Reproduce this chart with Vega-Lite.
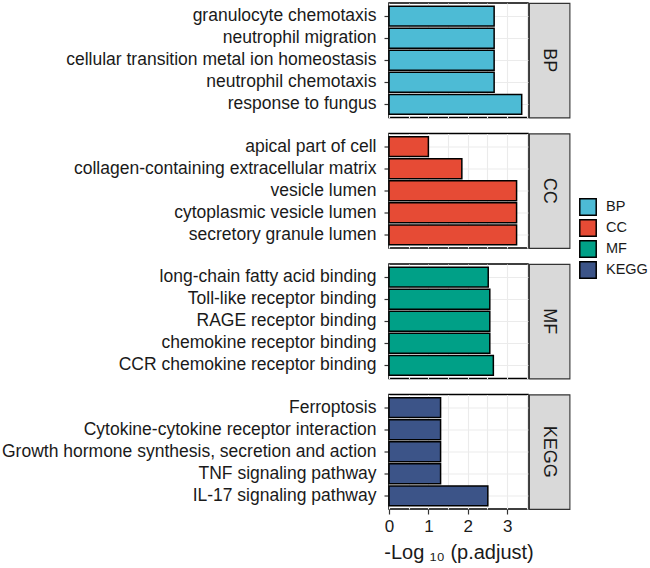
{
  "$schema": "https://vega.github.io/schema/vega-lite/v6.json",
  "padding": {"left": 0, "top": 2, "right": 5, "bottom": 2},
  "background": "white",
  "datasets": {
    "terms": [
      {"category": "BP", "term": "granulocyte chemotaxis", "value": 2.67},
      {"category": "BP", "term": "neutrophil migration", "value": 2.67},
      {"category": "BP", "term": "cellular transition metal ion homeostasis", "value": 2.67},
      {"category": "BP", "term": "neutrophil chemotaxis", "value": 2.67},
      {"category": "BP", "term": "response to fungus", "value": 3.37},
      {"category": "CC", "term": "apical part of cell", "value": 1.0},
      {"category": "CC", "term": "collagen-containing extracellular matrix", "value": 1.85},
      {"category": "CC", "term": "vesicle lumen", "value": 3.24},
      {"category": "CC", "term": "cytoplasmic vesicle lumen", "value": 3.24},
      {"category": "CC", "term": "secretory granule lumen", "value": 3.24},
      {"category": "MF", "term": "long-chain fatty acid binding", "value": 2.52},
      {"category": "MF", "term": "Toll-like receptor binding", "value": 2.56},
      {"category": "MF", "term": "RAGE receptor binding", "value": 2.56},
      {"category": "MF", "term": "chemokine receptor binding", "value": 2.56},
      {"category": "MF", "term": "CCR chemokine receptor binding", "value": 2.65},
      {"category": "KEGG", "term": "Ferroptosis", "value": 1.31},
      {"category": "KEGG", "term": "Cytokine-cytokine receptor interaction", "value": 1.31},
      {"category": "KEGG", "term": "Growth hormone synthesis, secretion and action", "value": 1.31},
      {"category": "KEGG", "term": "TNF signaling pathway", "value": 1.31},
      {"category": "KEGG", "term": "IL-17 signaling pathway", "value": 2.51}
    ],
    "strips": [
      {"panel": "BP"}, {"panel": "CC"}, {"panel": "MF"}, {"panel": "KEGG"}
    ]
  },
  "config": {
    "font": "Liberation Sans",
    "axis": {
      "labelFont": "Liberation Sans",
      "titleFont": "Liberation Sans",
      "labelColor": "#1a1a1a",
      "gridColor": "#EBEBEB",
      "gridWidth": 1.1
    }
  },
  "columns": 2,
  "align": "each",
  "bounds": "flush",
  "spacing": {"row": 15.5, "column": 1},
  "concat": [
    {
      "width": 139, "height": 114.5,
      "view": {"stroke": "black", "strokeWidth": 1.5},
      "data": {"name": "terms"},
      "transform": [{"filter": "datum.category === 'BP'"}],
      "mark": {"type": "bar", "stroke": "black", "strokeWidth": 1.5},
      "encoding": {
        "y": {"field": "term", "type": "nominal", "sort": null,
              "scale": {"paddingInner": 0.1, "paddingOuter": 0.15},
              "axis": {"title": null, "labelFontSize": 17.5, "labelColor": "#1a1a1a", "tickSize": 5, "tickWidth": 1.2, "tickColor": "#333", "labelPadding": 8, "domain": false, "bandPosition": 0.5, "grid": true, "labelLimit": 500}},
        "x": {"field": "value", "type": "quantitative",
              "scale": {"domain": [0, 3.53], "nice": false, "zero": true},
              "axis": {"values": [0, 0.5, 1, 1.5, 2, 2.5, 3, 3.5], "labels": false, "ticks": false, "domain": false, "title": null, "grid": true}},
        "color": {"field": "category", "type": "nominal",
                  "scale": {"domain": ["BP", "CC", "MF", "KEGG"], "range": ["#4DBBD5", "#E64B35", "#00A087", "#3C5488"]},
                  "legend": {"title": null, "orient": "none", "legendX": 190, "legendY": 195, "symbolType": "square", "symbolSize": 270, "symbolStrokeColor": "black", "symbolStrokeWidth": 1.5, "labelFontSize": 14.5, "labelColor": "#1a1a1a", "rowPadding": -7.5, "labelOffset": 9}}
      }
    },
    {
      "width": 40.5, "height": 114.5,
      "view": {"fill": "#D9D9D9", "stroke": "#333333", "strokeWidth": 1.1},
      "data": {"name": "strips"},
      "transform": [{"filter": "datum.panel === 'BP'"}],
      "mark": {"type": "text", "angle": 90, "fontSize": 18, "color": "#1a1a1a", "align": "center", "baseline": "middle"},
      "encoding": {"text": {"field": "panel"}}
    },
    {
      "width": 139, "height": 114.5,
      "view": {"stroke": "black", "strokeWidth": 1.5},
      "data": {"name": "terms"},
      "transform": [{"filter": "datum.category === 'CC'"}],
      "mark": {"type": "bar", "stroke": "black", "strokeWidth": 1.5},
      "encoding": {
        "y": {"field": "term", "type": "nominal", "sort": null,
              "scale": {"paddingInner": 0.1, "paddingOuter": 0.15},
              "axis": {"title": null, "labelFontSize": 17.5, "labelColor": "#1a1a1a", "tickSize": 5, "tickWidth": 1.2, "tickColor": "#333", "labelPadding": 8, "domain": false, "bandPosition": 0.5, "grid": true, "labelLimit": 500}},
        "x": {"field": "value", "type": "quantitative",
              "scale": {"domain": [0, 3.53], "nice": false, "zero": true},
              "axis": {"values": [0, 0.5, 1, 1.5, 2, 2.5, 3, 3.5], "labels": false, "ticks": false, "domain": false, "title": null, "grid": true}},
        "color": {"field": "category", "type": "nominal",
                  "scale": {"domain": ["BP", "CC", "MF", "KEGG"], "range": ["#4DBBD5", "#E64B35", "#00A087", "#3C5488"]}}
      }
    },
    {
      "width": 40.5, "height": 114.5,
      "view": {"fill": "#D9D9D9", "stroke": "#333333", "strokeWidth": 1.1},
      "data": {"name": "strips"},
      "transform": [{"filter": "datum.panel === 'CC'"}],
      "mark": {"type": "text", "angle": 90, "fontSize": 18, "color": "#1a1a1a", "align": "center", "baseline": "middle"},
      "encoding": {"text": {"field": "panel"}}
    },
    {
      "width": 139, "height": 114.5,
      "view": {"stroke": "black", "strokeWidth": 1.5},
      "data": {"name": "terms"},
      "transform": [{"filter": "datum.category === 'MF'"}],
      "mark": {"type": "bar", "stroke": "black", "strokeWidth": 1.5},
      "encoding": {
        "y": {"field": "term", "type": "nominal", "sort": null,
              "scale": {"paddingInner": 0.1, "paddingOuter": 0.15},
              "axis": {"title": null, "labelFontSize": 17.5, "labelColor": "#1a1a1a", "tickSize": 5, "tickWidth": 1.2, "tickColor": "#333", "labelPadding": 8, "domain": false, "bandPosition": 0.5, "grid": true, "labelLimit": 500}},
        "x": {"field": "value", "type": "quantitative",
              "scale": {"domain": [0, 3.53], "nice": false, "zero": true},
              "axis": {"values": [0, 0.5, 1, 1.5, 2, 2.5, 3, 3.5], "labels": false, "ticks": false, "domain": false, "title": null, "grid": true}},
        "color": {"field": "category", "type": "nominal",
                  "scale": {"domain": ["BP", "CC", "MF", "KEGG"], "range": ["#4DBBD5", "#E64B35", "#00A087", "#3C5488"]}}
      }
    },
    {
      "width": 40.5, "height": 114.5,
      "view": {"fill": "#D9D9D9", "stroke": "#333333", "strokeWidth": 1.1},
      "data": {"name": "strips"},
      "transform": [{"filter": "datum.panel === 'MF'"}],
      "mark": {"type": "text", "angle": 90, "fontSize": 18, "color": "#1a1a1a", "align": "center", "baseline": "middle"},
      "encoding": {"text": {"field": "panel"}}
    },
    {
      "width": 139, "height": 114.5,
      "view": {"stroke": "black", "strokeWidth": 1.5},
      "data": {"name": "terms"},
      "transform": [{"filter": "datum.category === 'KEGG'"}],
      "mark": {"type": "bar", "stroke": "black", "strokeWidth": 1.5},
      "encoding": {
        "y": {"field": "term", "type": "nominal", "sort": null,
              "scale": {"paddingInner": 0.1, "paddingOuter": 0.15},
              "axis": {"title": null, "labelFontSize": 17.5, "labelColor": "#1a1a1a", "tickSize": 5, "tickWidth": 1.2, "tickColor": "#333", "labelPadding": 8, "domain": false, "bandPosition": 0.5, "grid": true, "labelLimit": 500}},
        "x": {"field": "value", "type": "quantitative",
              "scale": {"domain": [0, 3.53], "nice": false, "zero": true},
              "axis": {"values": [0, 0.5, 1, 1.5, 2, 2.5, 3, 3.5], "domain": false, "grid": true,
                       "labelExpr": "datum.value % 1 === 0 ? format(datum.value, 'd') : ''",
                       "tickOpacity": {"expr": "datum.value % 1 === 0 ? 1 : 0"},
                       "tickSize": 5, "tickWidth": 1.2, "tickColor": "#333",
                       "labelFontSize": 17, "labelColor": "#1a1a1a", "labelPadding": 4, "labelFlush": false,
                       "title": "-Log \u2081\u2080 (p.adjust)", "titleFontSize": 20, "titleFontWeight": "normal", "titleColor": "#1a1a1a", "titlePadding": 8}},
        "color": {"field": "category", "type": "nominal",
                  "scale": {"domain": ["BP", "CC", "MF", "KEGG"], "range": ["#4DBBD5", "#E64B35", "#00A087", "#3C5488"]}}
      }
    },
    {
      "width": 40.5, "height": 114.5,
      "view": {"fill": "#D9D9D9", "stroke": "#333333", "strokeWidth": 1.1},
      "data": {"name": "strips"},
      "transform": [{"filter": "datum.panel === 'KEGG'"}],
      "mark": {"type": "text", "angle": 90, "fontSize": 18, "color": "#1a1a1a", "align": "center", "baseline": "middle"},
      "encoding": {"text": {"field": "panel"}}
    }
  ]
}
